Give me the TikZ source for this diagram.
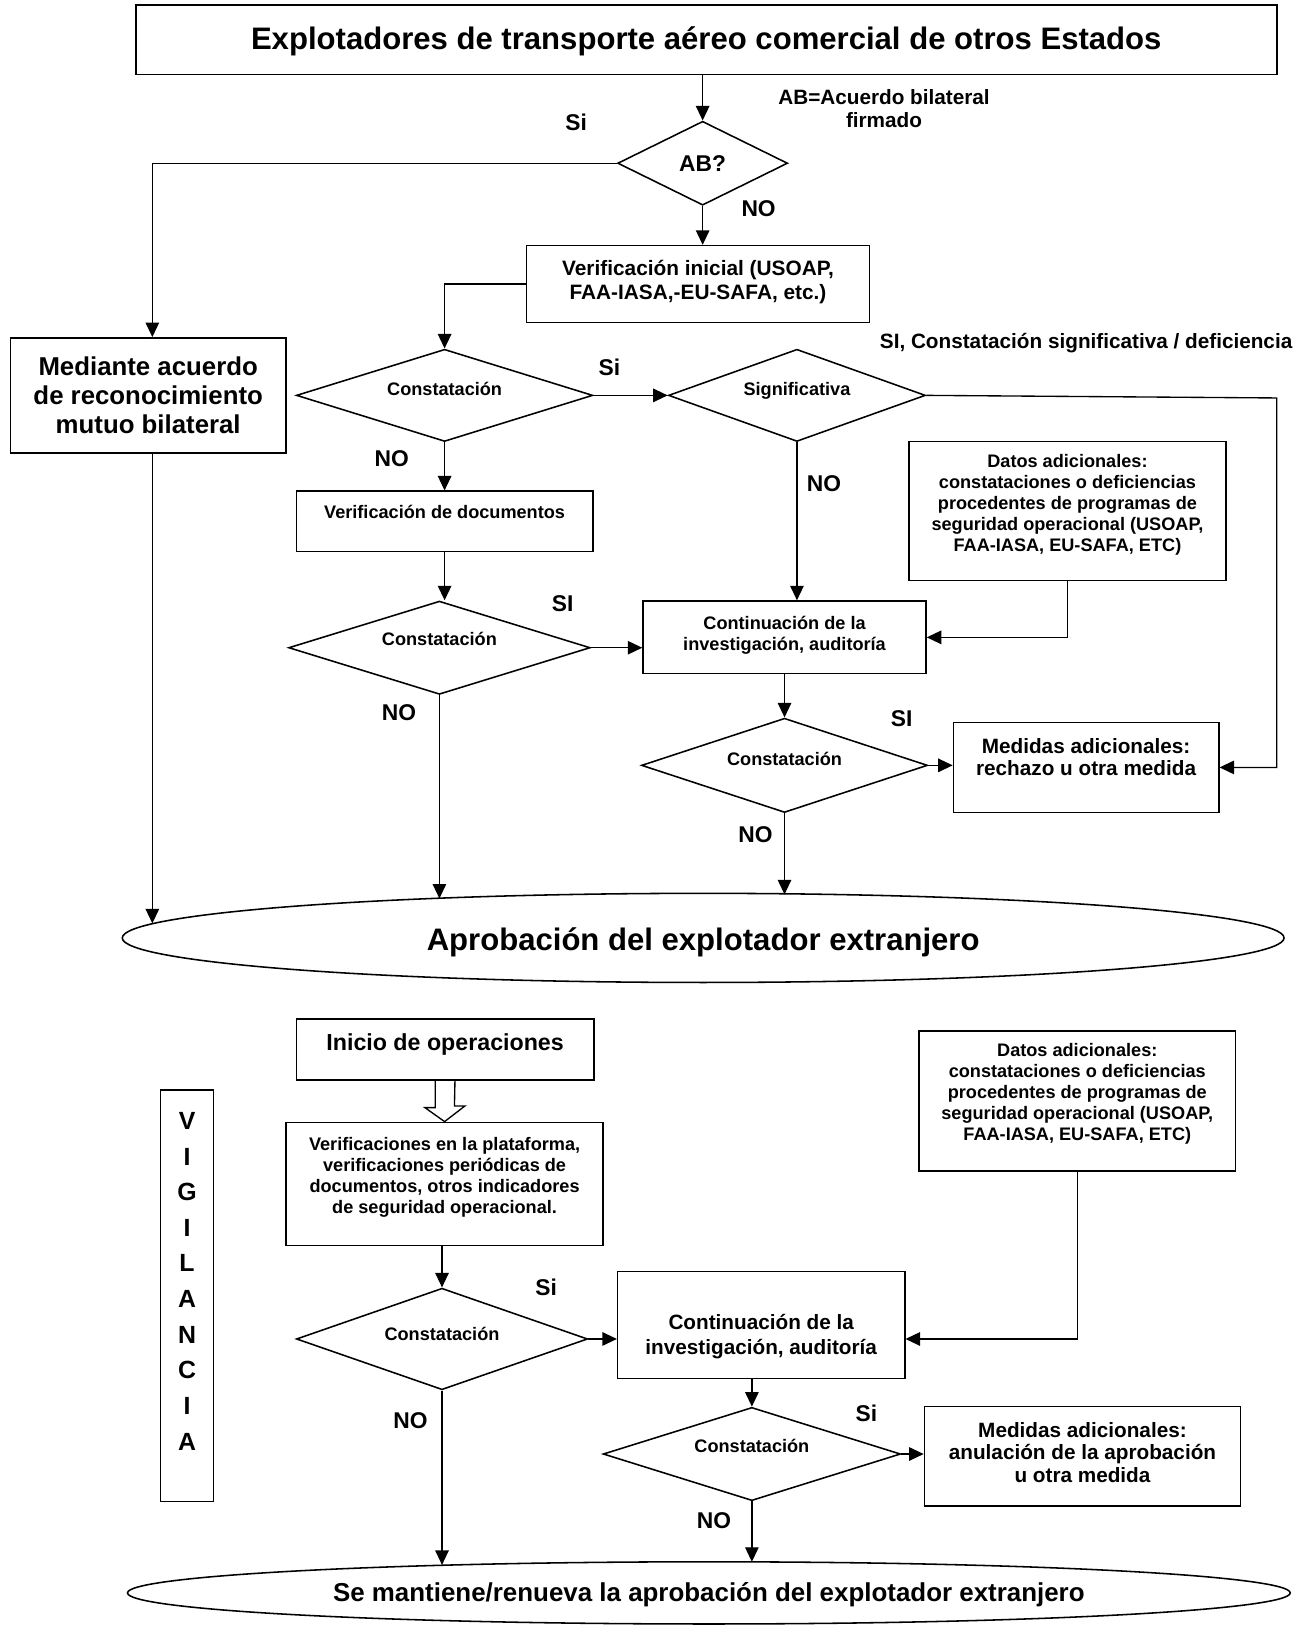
\documentclass[tikz,border=0pt]{standalone}
\usepackage{fontspec}
\setmainfont{Liberation Sans}
\usetikzlibrary{shapes.geometric,arrows.meta}
\newcommand\boxtxt[2]{\raisebox{\dimexpr#1pt-0.37em\relax}[0pt][0pt]{\begin{tabular}{@{}c@{}}#2\end{tabular}}}
\newcommand\fs[2]{\fontsize{#1}{#2}\selectfont\bfseries}
\tikzset{
  frame/.style={draw, line width=1.5pt, rectangle, inner sep=0pt},
  sz/.style 2 args={minimum width=#1pt, minimum height=#2pt},
  dia/.style={draw, shape=diamond, line width=1.5pt, inner sep=0pt, shape aspect=3},
  ell/.style={draw, ellipse, line width=1.5pt, inner sep=0pt},
  arr/.style={line width=1.3pt, -{Triangle[length=14pt,width=13pt]}},
  ln/.style={line width=1.3pt},
  lab/.style={font=\fs{22}{25}, inner sep=0pt},
  small/.style={font=\fs{17.5}{20.3}},
}
\begin{document}
\begin{tikzpicture}[x=1pt,y=-1pt]
\useasboundingbox (0,0) rectangle (1258,1568);
% ---------- upper part ----------
\node[frame, sz={1101}{67}, font=\fs{30}{34}] (top) at (681.5,38.5) {\boxtxt{2}{Explotadores de transporte aéreo comercial de otros Estados}};
\node[dia, sz={164}{81}, font=\fs{22}{25}] (ab) at (678,157.5) {\boxtxt{0}{AB?}};
\node[frame, sz={331}{74}, font=\fs{20.1}{23}] (vinit) at (673.5,274) {\boxtxt{3.5}{Verificación inicial (USOAP,\\FAA-IASA,-EU-SAFA, etc.)}};
\node[frame, sz={266}{111}, font=\fs{24.9}{28}] (med) at (143,381.5) {\boxtxt{0}{Mediante acuerdo\\de reconocimiento\\mutuo bilateral}};
\node[dia, sz={286}{89}, small] (c1) at (429,381.5) {\boxtxt{6}{Constatación}};
\node[dia, sz={248}{89}, small] (sig) at (769,381.5) {\boxtxt{6}{Significativa}};
\node[frame, sz={286}{58}, small] (vdoc) at (429,503) {\boxtxt{9}{Verificación de documentos}};
\node[dia, sz={291}{90}, small] (c2) at (424,625) {\boxtxt{8}{Constatación}};
\node[frame, sz={273}{70}, small] (cont1) at (757,615) {\boxtxt{4}{Continuación de la\\investigación, auditoría}};
\node[frame, sz={306}{134}, small] (datos1) at (1030,493) {\boxtxt{7.5}{Datos adicionales:\\constataciones o deficiencias\\procedentes de programas de\\seguridad operacional (USOAP,\\FAA-IASA, EU-SAFA, ETC)}};
\node[dia, sz={276}{91}, small] (c3) at (757,738.5) {\boxtxt{6.5}{Constatación}};
\node[frame, sz={256}{87}, font=\fs{20}{22}] (med1) at (1048,740.5) {\boxtxt{9.5}{Medidas adicionales:\\rechazo u otra medida}};
\node[ell, minimum width=1121pt, minimum height=86pt, font=\fs{30}{34}] (ell1) at (678.5,905) {\boxtxt{0}{Aprobación del explotador extranjero}};
% labels
\node[inner sep=0pt, font=\fs{20}{22}] (abnote) at (853,105) {\boxtxt{0}{AB=Acuerdo bilateral\\firmado}};
\node[lab] (l1) at (556,118) {Si};
\node[lab] (l2) at (732,201) {NO};
\node[inner sep=0pt, font=\fs{20}{22}] (l3) at (1048,331) {SI, Constatación significativa / deficiencia};
\node[lab] (l4) at (588,354) {Si};
\node[lab] (l5) at (378,443) {NO};
\node[lab] (l6) at (795,467) {NO};
\node[lab] (l7) at (543,582) {SI};
\node[lab] (l8) at (385,688) {NO};
\node[lab] (l9) at (870,693) {SI};
\node[lab] (l10) at (729,805) {NO};
% connectors
\coordinate (jsig) at (1232,384);
\coordinate (e1a) at (424,867);
\coordinate (e1b) at (757,863);
\coordinate (e1c) at (147,891);
\draw[arr] (ab.north |- top.south) -- (ab.north);
\draw[arr] (ab.west) -| ([xshift=4pt]med.north);
\draw[arr] (ab.south) -- (ab.south |- vinit.north);
\draw[arr] (vinit.west) -| (c1.north);
\draw[arr] (c1.east) -- (sig.west);
\draw[arr] (sig.east) -- (jsig) |- (med1.east);
\draw[arr] (c1.south) -- (vdoc.north);
\draw[arr] (vdoc.south) -- (vdoc.south |- c2.north);
\draw[arr] (c2.east) -- (c2.east -| cont1.west);
\draw[arr] (sig.south) -- (sig.south |- cont1.north);
\draw[arr] (datos1.south) |- (cont1.east);
\draw[arr] (c2.south) -- (e1a);
\draw[arr] (cont1.south) -- (c3.north);
\draw[arr] (c3.east) -- (c3.east -| med1.west);
\draw[arr] (c3.south) -- (e1b);
\draw[arr] ([xshift=4pt]med.south) -- (e1c);
% ---------- lower part ----------
\node[frame, sz={287}{59}, font=\fs{22.4}{25}] (inicio) at (429.5,1012.5) {\boxtxt{6.5}{Inicio de operaciones}};
\node[frame, sz={51}{397}, font=\fs{24}{34.4}] (vig) at (180.5,1250.5) {\boxtxt{15.5}{V\\I\\G\\I\\L\\A\\N\\C\\I\\A}};
\node[frame, sz={306}{119}, small] (verif) at (429,1142.5) {\boxtxt{8}{Verificaciones en la plataforma,\\verificaciones periódicas de\\documentos, otros indicadores\\de seguridad operacional.}};
\node[dia, sz={281}{98}, small] (c4) at (426.5,1292) {\boxtxt{5}{Constatación}};
\node[frame, sz={277}{103}, font=\fs{20}{24}] (cont2) at (734.5,1278.5) {\boxtxt{-9.5}{Continuación de la\\investigación, auditoría}};
\node[frame, sz={305}{135}, small] (datos2) at (1039.5,1062.5) {\boxtxt{8.5}{Datos adicionales:\\constataciones o deficiencias\\procedentes de programas de\\seguridad operacional (USOAP,\\FAA-IASA, EU-SAFA, ETC)}};
\node[dia, sz={287}{90}, small] (c5) at (725.5,1403) {\boxtxt{8}{Constatación}};
\node[frame, sz={305}{96}, font=\fs{20}{22}] (med2) at (1044.5,1405) {\boxtxt{3}{Medidas adicionales:\\anulación de la aprobación\\u otra medida}};
\node[ell, minimum width=1122pt, minimum height=60pt, font=\fs{25}{28}] (ell2) at (684,1537) {\boxtxt{0}{Se mantiene/renueva la aprobación del explotador extranjero}};
\node[lab] (l11) at (527,1242) {Si};
\node[lab] (l12) at (396,1371) {NO};
\node[lab] (l13) at (836,1364) {Si};
\node[lab] (l14) at (689,1467) {NO};
\coordinate (e2a) at (426.5,1510);
\coordinate (e2b) at (725.5,1507);
\draw[ln, line join=miter] ([xshift=-9.5pt]inicio.south) -- ++(0,26) -- ++(-10,0) -- (verif.north)
  -- ([xshift=19.5pt,yshift=15pt]verif.north) -- ++(-10,0) -- ([xshift=9.5pt]inicio.south);
\draw[arr] (c4.north |- verif.south) -- (c4.north);
\draw[arr] (c4.east) -- (c4.east -| cont2.west);
\draw[arr] (datos2.south) |- (c4.east -| cont2.east);
\draw[arr] (c5.north |- cont2.south) -- (c5.north);
\draw[arr] (c5.east) -- (c5.east -| med2.west);
\draw[arr] (c4.south) -- (e2a);
\draw[arr] (c5.south) -- (e2b);
\end{tikzpicture}
\end{document}
